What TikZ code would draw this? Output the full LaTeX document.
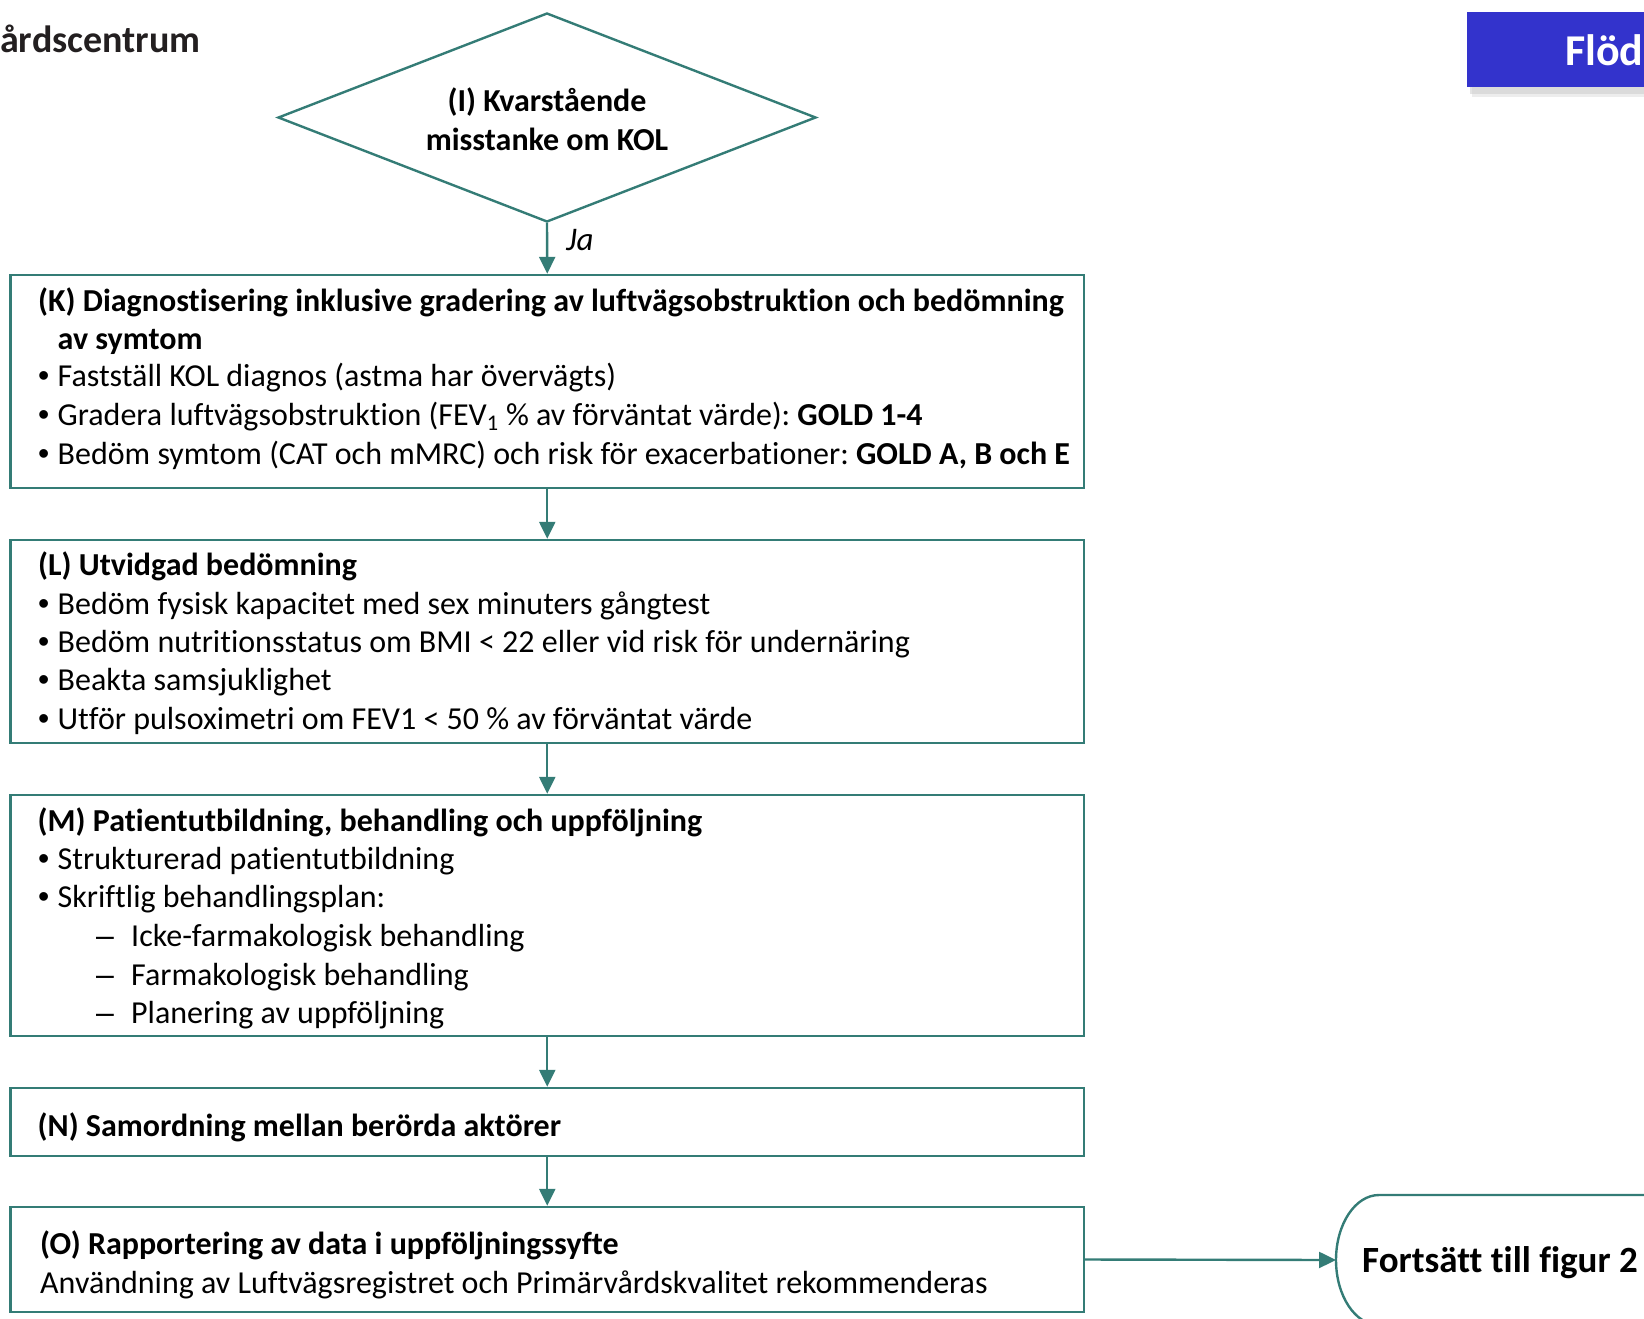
\documentclass[tikz,border=0pt]{standalone}
\usepackage{fontspec}
\setmainfont{Carlito}[Ligatures={NoCommon}]
\newfontfamily\bulfont{Liberation Sans}
\usetikzlibrary{arrows.meta,shapes.geometric}
\definecolor{tealc}{RGB}{52,124,118}
\definecolor{blueb}{RGB}{51,51,204}
\definecolor{logoc}{RGB}{35,31,32}
\newcommand\mybul{\makebox[19.5pt][l]{\bulfont •}}
\newcommand\mydash{\makebox[35pt][l]{\bulfont –}}
\frenchspacing
\begin{document}
\begin{tikzpicture}[x=1pt,y=-1pt,
  box/.style={draw=tealc,line width=2.4pt,rectangle,inner sep=0pt,fill=white},
  conn/.style={draw=tealc,line width=2.4pt,-{Triangle[length=17pt,width=16pt]}},
  txt/.style={anchor=base west,inner sep=0pt,font=\fontsize{32}{38}\selectfont},
  btxt/.style={anchor=base west,inner sep=0pt,font=\fontsize{32}{38}\selectfont\bfseries},
  ctxt/.style={anchor=base,inner sep=0pt,font=\fontsize{32}{38}\selectfont\bfseries}]
\useasboundingbox (0,0) rectangle (1644,1318);
\clip (0,0) rectangle (1644,1318);

% header
\node[anchor=base west,inner sep=0pt,text=logoc,font=\fontsize{38}{42}\selectfont\bfseries] (logo) at (0,52) {årdscentrum};
\fill[gray!60,opacity=0.35] (1470,16) rectangle (1700,94);
\fill[gray!40,opacity=0.35] (1472,18) rectangle (1700,97);
\node[fill=blueb,minimum width=240pt,minimum height=75pt,inner sep=0pt,anchor=north west] (flod) at (1467,12) {};
\node[anchor=base west,inner sep=0pt,text=white,font=\fontsize{44}{48}\selectfont\bfseries] (flodt) at (1565,65) {Flöd};

% decision
\node[draw=tealc,line width=2.4pt,diamond,minimum width=538pt,minimum height=209pt,inner sep=0pt] (I) at (547,117.5) {};
\node[ctxt] (i1) at (547,111) {(I) Kvarstående};
\node[ctxt] (i2) at (547,150) {misstanke om KOL};

% boxes
\node[box,minimum width=1073.5pt,minimum height=213pt] (K) at (547.25,381.5) {};
\node[box,minimum width=1073.5pt,minimum height=203pt] (L) at (547.25,641.5) {};
\node[box,minimum width=1073.5pt,minimum height=241pt] (M) at (547.25,915.5) {};
\node[box,minimum width=1073.5pt,minimum height=68pt] (N) at (547.25,1122) {};
\node[box,minimum width=1073.5pt,minimum height=105pt] (O) at (547.25,1259.5) {};

% K text
\node[btxt] (k1) at (38,311) {(K) Diagnostisering inklusive gradering av luftvägsobstruktion och bedömning};
\node[btxt] (k2) at (57.5,349) {av symtom};
\node[txt] (k3) at (38,386.5) {\mybul Fastställ KOL diagnos (astma har övervägts)};
\node[txt] (k4) at (38,425) {\mybul Gradera luftvägsobstruktion (FEV\textsubscript{1} \% av förväntat värde): \textbf{GOLD 1-4}};
\node[txt] (k5) at (38,464) {\mybul Bedöm symtom (CAT och mMRC) och risk för exacerbationer: \textbf{GOLD A, B och E}};

% L text
\node[btxt] (l1) at (38,575) {(L) Utvidgad bedömning};
\node[txt] (l2) at (38,614) {\mybul Bedöm fysisk kapacitet med sex minuters gångtest};
\node[txt] (l3) at (38,652) {\mybul Bedöm nutritionsstatus om BMI < 22 eller vid risk för undernäring};
\node[txt] (l4) at (38,690.5) {\mybul Beakta samsjuklighet};
\node[txt] (l5) at (38,729.5) {\mybul Utför pulsoximetri om FEV1 < 50 \% av förväntat värde};

% M text
\node[btxt] (m1) at (37.5,831) {(M) Patientutbildning, behandling och uppföljning};
\node[txt] (m2) at (38,869) {\mybul Strukturerad patientutbildning};
\node[txt] (m3) at (38,907.5) {\mybul Skriftlig behandlingsplan:};
\node[txt] (m4) at (96,946) {\mydash Icke-farmakologisk behandling};
\node[txt] (m5) at (96,985) {\mydash Farmakologisk behandling};
\node[txt] (m6) at (96,1023) {\mydash Planering av uppföljning};

% N text
\node[btxt] (n1) at (37.5,1136) {(N) Samordning mellan berörda aktörer};

% O text
\node[btxt] (o1) at (40,1254.5) {(O) Rapportering av data i uppföljningssyfte};
\node[txt] (o2) at (40,1293.5) {Användning av Luftvägsregistret och Primärvårdskvalitet rekommenderas};

% terminal
\draw[tealc,line width=2.4pt] (1720,1195) -- (1379,1195) arc[start angle=270,end angle=90,x radius=43,y radius=65] -- (1720,1325);
\coordinate (tin) at (1336,1260);
\node[anchor=base,inner sep=0pt,font=\fontsize{37}{42}\selectfont\bfseries] (term) at (1500,1272) {Fortsätt till figur 2};

% connectors
\draw[conn] (I.south) -- (K.north);
\node[anchor=base west,inner sep=0pt,font=\fontsize{33}{38}\selectfont\itshape] (ja) at (566,250) {Ja};
\draw[conn] (K.south) -- (L.north);
\draw[conn] (L.south) -- (M.north);
\draw[conn] (M.south) -- (N.north);
\draw[conn] (N.south) -- (O.north);
\draw[conn] (O.east) -- (tin);
\end{tikzpicture}
\end{document}
